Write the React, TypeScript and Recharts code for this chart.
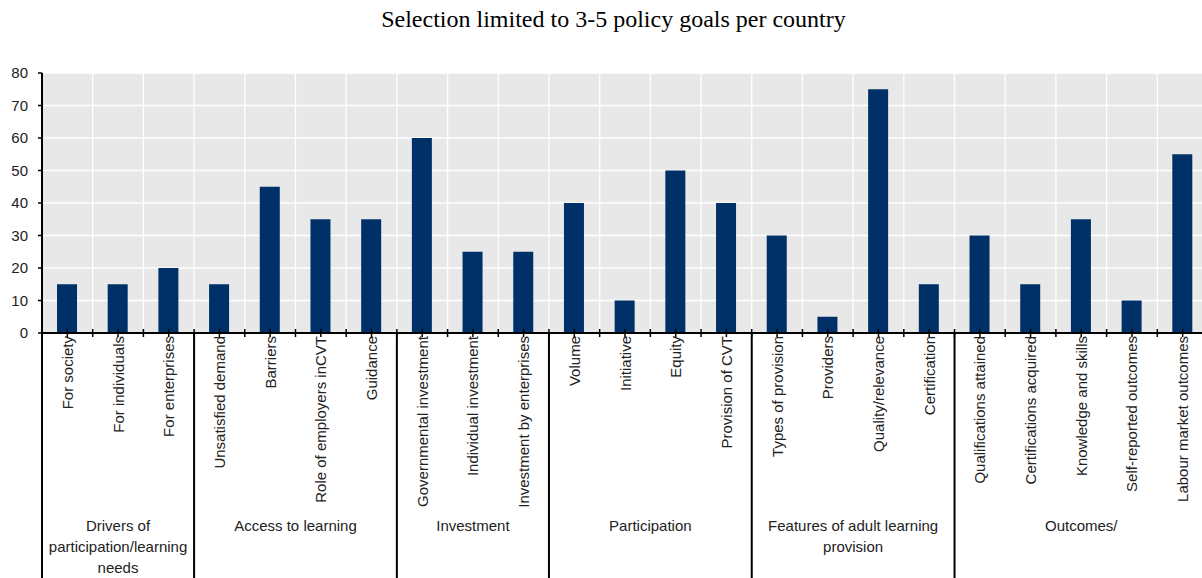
import React from 'react';
import { BarChart, Bar, XAxis, YAxis, CartesianGrid } from 'recharts';

const categories = [
  'For society',
  'For individuals',
  'For enterprises',
  'Unsatisfied demand',
  'Barriers',
  'Role of employers inCVT',
  'Guidance',
  'Governmental investment',
  'Individual investment',
  'Investment by enterprises',
  'Volume',
  'Initiative',
  'Equity',
  'Provision of CVT',
  'Types of provision',
  'Providers',
  'Quality/relevance',
  'Certification',
  'Qualifications attained',
  'Certifications acquired',
  'Knowledge and skills',
  'Self-reported outcomes',
  'Labour market outcomes',
];

const values = [15, 15, 20, 15, 45, 35, 35, 60, 25, 25, 40, 10, 50, 40, 30, 5, 75, 15, 30, 15, 35, 10, 55];

const groupNames = [
  ['Drivers of', 'participation/learning', 'needs'],
  ['Access to learning'],
  ['Investment'],
  ['Participation'],
  ['Features of adult learning', 'provision'],
  ['Outcomes/'],
];
const groupSizes = [3, 4, 3, 4, 4, 5];

const yTicks = [0, 10, 20, 30, 40, 50, 60, 70, 80];

const title = 'Selection limited to 3-5 policy goals per country';

const W = 1209;
const H = 578;
const margin = { top: 73, right: 1, left: 0, bottom: 0 };
const Y_AXIS_W = 42;
const X_AXIS_H = 245;
const BAND = (W - margin.left - margin.right - Y_AXIS_W) / categories.length;

const groupStarts = groupSizes.map((_, i) => groupSizes.slice(0, i).reduce((a, b) => a + b, 0));

const data = categories.map((name, i) => ({ name, value: values[i] }));

const FONT = '"Liberation Sans", Arial, sans-serif';

const CategoryTick = (props: any) => {
  const { x, y, payload } = props;
  const i = categories.indexOf(payload.value);
  const g = groupStarts.indexOf(i);
  const half = BAND / 2;
  return (
    <g>
      <line x1={x} x2={x} y1={y - 4} y2={y + 4} stroke="#000" strokeWidth={1.5} />
      <line x1={x + half} x2={x + half} y1={y - 4} y2={y + 4} stroke="#000" strokeWidth={1.5} />
      <text
        x={x}
        y={y + 3}
        transform={`rotate(-90 ${x} ${y + 3})`}
        textAnchor="end"
        dominantBaseline="central"
        fontSize={15}
        fontFamily={FONT}
        fill="#222"
      >
        {payload.value}
      </text>
      {g >= 0 && (
        <g>
          <line x1={x - half} x2={x - half} y1={y} y2={y + X_AXIS_H} stroke="#000" strokeWidth={2} />
          <text
            x={x - half + (groupSizes[g] * BAND) / 2}
            y={y + 198}
            textAnchor="middle"
            fontSize={15}
            fontFamily={FONT}
            fill="#222"
          >
            {groupNames[g].map((line, k) => (
              <tspan key={k} x={x - half + (groupSizes[g] * BAND) / 2} dy={k === 0 ? 0 : 21}>
                {line}
              </tspan>
            ))}
          </text>
        </g>
      )}
    </g>
  );
};

const App: React.FC = () => {
  return (
    <div
      style={{
        position: 'absolute',
        left: 0,
        top: 0,
        width: 1202,
        height: H,
        overflow: 'hidden',
        background: '#fff',
      }}
    >
      <div
        style={{
          position: 'absolute',
          left: 0,
          top: 5,
          width: 1227,
          textAlign: 'center',
          fontFamily: '"Liberation Serif", "Times New Roman", serif',
          fontSize: 24,
          lineHeight: '28px',
          color: '#000',
        }}
      >
        {title}
      </div>
      <BarChart width={W} height={H} data={data} margin={margin}>
        <CartesianGrid
          fill="#e8e8e8"
          stroke="#fff"
          strokeWidth={1.3}
          verticalCoordinatesGenerator={({ offset }: any) =>
            categories.slice(1).map((_, i) => offset.left + ((i + 1) * offset.width) / categories.length)
          }
        />
        <XAxis
          dataKey="name"
          interval={0}
          height={X_AXIS_H}
          tickLine={false}
          tickSize={0}
          tickMargin={0}
          axisLine={{ stroke: '#000', strokeWidth: 2 }}
          tick={<CategoryTick />}
        />
        <YAxis
          width={Y_AXIS_W}
          domain={[0, 80]}
          ticks={yTicks}
          interval={0}
          tickSize={4}
          tickMargin={10}
          axisLine={{ stroke: '#000', strokeWidth: 2 }}
          tickLine={{ stroke: '#000', strokeWidth: 1.5 }}
          tick={{ fontSize: 15, fontFamily: FONT, fill: '#222' }}
        />
        <Bar dataKey="value" fill="#003068" barSize={20} isAnimationActive={false} />
      </BarChart>
    </div>
  );
};

export default App;
